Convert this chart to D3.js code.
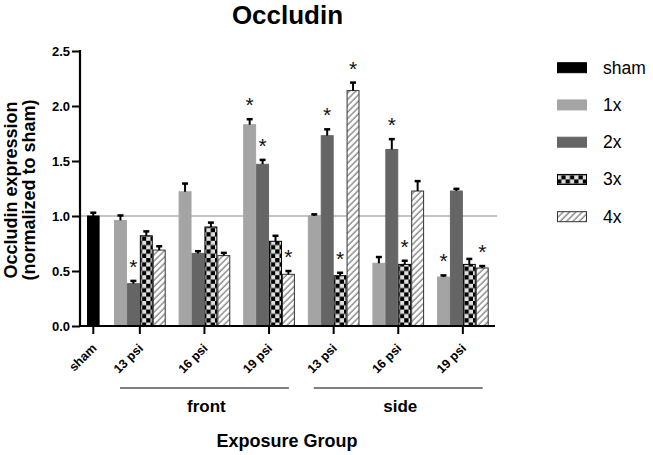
<!DOCTYPE html>
<html>
<head>
<meta charset="utf-8">
<script src="https://cdn.jsdelivr.net/npm/d3@7"></script>
<style>
  body { margin: 0; background: #fff; }
  svg text { font-family: "Liberation Sans", Arial, sans-serif; }
</style>
</head>
<body>
<svg id="chart" width="653" height="455"></svg>
<script>
// data
const groups = ["f13", "f16", "f19", "s13", "s16", "s19"]
const groupLabels = ["13 psi", "16 psi", "19 psi", "13 psi", "16 psi", "19 psi"]
const locations = ["front", "side"]
const groupLocation = ["front", "front", "front", "side", "side", "side"]
const series = ["1x", "2x", "3x", "4x"]
const legendLabels = ["sham", "1x", "2x", "3x", "4x"]
const yTicks = [0, 0.5, 1.0, 1.5, 2.0, 2.5]

const shamMean = 1.0
const shamErr = 0.03

const mean1x = [0.96, 1.22, 1.83, 1.00, 0.57, 0.445]
const err1x  = [0.045, 0.075, 0.05, 0.015, 0.057, 0.015]
const mean2x = [0.385, 0.66, 1.47, 1.73, 1.605, 1.227]
const err2x  = [0.025, 0.02, 0.04, 0.058, 0.094, 0.02]
const mean3x = [0.82, 0.90, 0.77, 0.457, 0.56, 0.56]
const err3x  = [0.04, 0.04, 0.05, 0.027, 0.033, 0.05]
const mean4x = [0.69, 0.64, 0.47, 2.14, 1.227, 0.527]
const err4x  = [0.035, 0.025, 0.03, 0.073, 0.09, 0.018]

const star1x = [false, false, true, false, false, true]
const star2x = [true, false, true, true, true, false]
const star3x = [false, false, false, true, true, false]
const star4x = [false, false, true, true, false, true]

const means = [mean1x, mean2x, mean3x, mean4x]
const errs = [err1x, err2x, err3x, err4x]
const stars = [star1x, star2x, star3x, star4x]

const fills = {sham: "#000", "1x": "#a4a4a4", "2x": "#656565", "3x": "url(#checker)", "4x": "url(#hatch)"}
const strokes = {sham: "#000", "1x": "#a4a4a4", "2x": "#656565", "3x": "#000", "4x": "#333"}

const svg = d3.select("#chart")

// patterns
const defs = svg.append("defs")
const ck = defs.append("pattern").attr("id", "checker")
    .attr("patternUnits", "userSpaceOnUse").attr("width", 8.6).attr("height", 8.6)
ck.append("rect").attr("width", 8.6).attr("height", 8.6).attr("fill", "#dedede")
ck.append("rect").attr("width", 4.3).attr("height", 4.3).attr("fill", "#000")
ck.append("rect").attr("x", 4.3).attr("y", 4.3).attr("width", 4.3).attr("height", 4.3).attr("fill", "#000")
const ht = defs.append("pattern").attr("id", "hatch")
    .attr("patternUnits", "userSpaceOnUse").attr("width", 4.5).attr("height", 4.5)
    .attr("patternTransform", "rotate(45)")
ht.append("rect").attr("width", 4.5).attr("height", 4.5).attr("fill", "#fff")
ht.append("line").attr("x1", 1).attr("x2", 1).attr("y1", 0).attr("y2", 4.5)
    .attr("stroke", "#444").attr("stroke-width", 0.9)

// scales
const y = d3.scaleLinear().domain([0, 2.5]).range([326, 51])
const xGroup = d3.scaleBand().domain(groups).range([114, 488.7]).paddingInner(0.2).paddingOuter(0)
const xSeries = d3.scaleBand().domain(series).range([0, xGroup.bandwidth()])
const xSham = d3.scaleBand().domain(["sham"]).range([87, 99.6])

// reference line at 1.0
svg.append("line")
    .attr("x1", 80).attr("x2", 497)
    .attr("y1", y(1)).attr("y2", y(1))
    .attr("stroke", "#c4c4c4").attr("stroke-width", 2)

// flatten bars
const bars = [{x: xSham("sham"), w: xSham.bandwidth(), v: shamMean, e: shamErr, s: "sham", star: false}]
groups.forEach((g, gi) => {
    series.forEach((s, si) => {
        bars.push({
            x: xGroup(g) + xSeries(s), w: xSeries.bandwidth(),
            v: means[si][gi], e: errs[si][gi], s: s, star: stars[si][gi]
        })
    })
})

const barG = svg.append("g")
barG.selectAll("rect").data(bars).join("rect")
    .attr("x", d => d.x + 0.5)
    .attr("width", d => d.w - 1)
    .attr("y", d => y(d.v))
    .attr("height", d => y(0) - y(d.v))
    .attr("fill", d => fills[d.s])
    .attr("stroke", d => strokes[d.s])
    .attr("stroke-width", 1)

// error bars (upper only)
const errG = svg.append("g").attr("stroke", "#000").attr("stroke-width", 2)
errG.selectAll("line.v").data(bars).join("line").attr("class", "v")
    .attr("x1", d => d.x + d.w / 2).attr("x2", d => d.x + d.w / 2)
    .attr("y1", d => y(d.v)).attr("y2", d => y(d.v + d.e))
errG.selectAll("line.c").data(bars).join("line").attr("class", "c")
    .attr("x1", d => d.x + d.w / 2 - 3).attr("x2", d => d.x + d.w / 2 + 3)
    .attr("y1", d => y(d.v + d.e)).attr("y2", d => y(d.v + d.e))
    .attr("stroke-width", 2.5)

// significance stars
svg.append("g").selectAll("text").data(bars.filter(d => d.star)).join("text")
    .attr("x", d => d.x + d.w / 2)
    .attr("y", d => y(d.v + d.e) - 7)
    .attr("text-anchor", "middle")
    .attr("font-size", 21)
    .attr("fill", "#111")
    .text("*")

// y axis
const yAxis = svg.append("g").attr("transform", "translate(80,0)")
    .call(d3.axisLeft(y).tickValues(yTicks).tickFormat(d3.format(".1f")).tickSize(8).tickPadding(2))
yAxis.select(".domain").attr("stroke-width", 2.2).attr("d", `M0,${y(2.5) - 1}V${y(0)}`)
yAxis.selectAll(".tick line").attr("stroke-width", 2)
yAxis.selectAll(".tick text").attr("font-size", 13).attr("font-weight", "bold").attr("fill", "#000")

// x axis
const xAxisG = svg.append("g")
xAxisG.append("line").attr("x1", 79).attr("x2", 495).attr("y1", y(0)).attr("y2", y(0))
    .attr("stroke", "#000").attr("stroke-width", 2.2)
const tickPos = [xSham("sham") + xSham.bandwidth() / 2].concat(groups.map(g => xGroup(g) + xGroup.bandwidth() / 2))
const tickText = ["sham"].concat(groupLabels)
xAxisG.selectAll("line.t").data(tickPos).join("line").attr("class", "t")
    .attr("x1", d => d).attr("x2", d => d).attr("y1", y(0)).attr("y2", y(0) + 8)
    .attr("stroke", "#000").attr("stroke-width", 2)
xAxisG.selectAll("text").data(tickPos).join("text")
    .attr("transform", d => `translate(${d + 4},${y(0) + 23}) rotate(-45)`)
    .attr("text-anchor", "end")
    .attr("font-size", 12.5).attr("font-weight", "bold")
    .text((d, i) => tickText[i])

// location brackets
locations.forEach(loc => {
    const gs = groups.filter((g, i) => groupLocation[i] === loc)
    const x0 = xGroup(gs[0]) + 6
    const x1 = xGroup(gs[gs.length - 1]) + xGroup.bandwidth() - 6
    svg.append("line").attr("x1", x0).attr("x2", x1).attr("y1", 388).attr("y2", 388)
        .attr("stroke", "#555").attr("stroke-width", 1.5)
    svg.append("text").attr("x", (x0 + x1) / 2 + 2).attr("y", 412)
        .attr("text-anchor", "middle").attr("font-size", 17).attr("font-weight", "bold")
        .text(loc)
})

// axis titles
svg.append("text").attr("x", 287).attr("y", 447).attr("text-anchor", "middle")
    .attr("font-size", 18).attr("font-weight", "bold").text("Exposure Group")
const yl = svg.append("text").attr("transform", "translate(0,190) rotate(-90)")
    .attr("text-anchor", "middle").attr("font-size", 18).attr("font-weight", "bold")
yl.append("tspan").attr("x", 0).attr("y", 17).text("Occludin expression")
yl.append("tspan").attr("x", 0).attr("y", 35).text("(normalized to sham)")

// title
svg.append("text").attr("x", 287.5).attr("y", 23.5).attr("text-anchor", "middle")
    .attr("font-size", 26).attr("font-weight", "bold").text("Occludin")

// legend
const leg = svg.append("g").selectAll("g").data(legendLabels).join("g")
    .attr("transform", (d, i) => `translate(557,${67.7 + i * 37.25})`)
leg.append("rect").attr("x", 0.5).attr("y", -5).attr("width", 29).attr("height", 10)
    .attr("fill", d => fills[d]).attr("stroke", d => strokes[d]).attr("stroke-width", 1)
leg.append("text").attr("x", 46).attr("y", 6).attr("font-size", 17.5).text(d => d)
</script>
</body>
</html>
